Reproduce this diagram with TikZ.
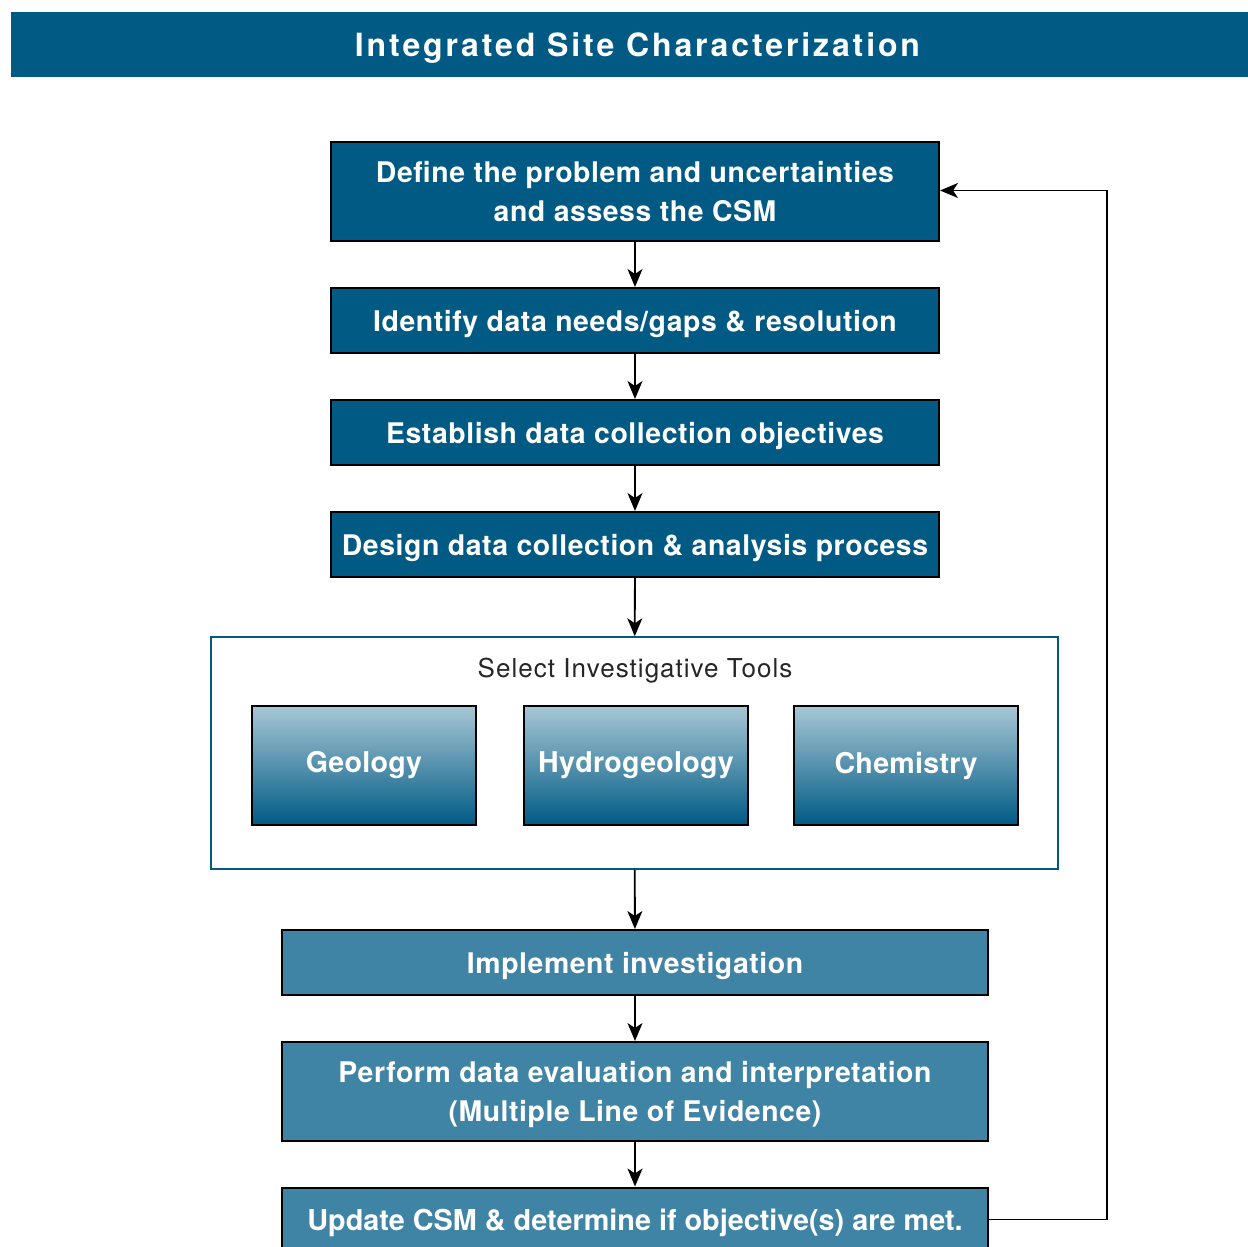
\documentclass[tikz,border=0pt]{standalone}
\usepackage{fontspec}
\setmainfont{TeX Gyre Heros}
\usetikzlibrary{arrows.meta,positioning}

\definecolor{darkblue}{RGB}{0,90,132}
\definecolor{midblue}{RGB}{63,132,165}
\definecolor{paleblue}{RGB}{168,199,213}

\begin{document}
\begin{tikzpicture}[x=0.5pt,y=0.5pt,yscale=-1,
	stepbox/.style={draw=black,line width=1pt,fill=darkblue,text=white,font=\bfseries\fontsize{14.2}{19.5}\selectfont\addfontfeature{LetterSpace=2},align=center,minimum width=304pt,minimum height=32.5pt,inner sep=0pt,text depth=0pt},
	lowbox/.style={stepbox,fill=midblue,minimum width=353pt},
	toolbox/.style={draw=black,line width=1pt,top color=paleblue,bottom color=darkblue,text=white,font=\bfseries\fontsize{14.3}{16}\selectfont\addfontfeature{LetterSpace=1},minimum width=112pt,minimum height=59.5pt,inner sep=0pt},
	flow/.style={-{Stealth[length=9pt,width=7.5pt,inset=2.5pt]},line width=0.9pt}]
	%uncomment if require: \path (0,1247); %set diagram left start at 0, and has height of 1247
	\useasboundingbox (0,0) rectangle (1248,1247);

	% Title bar
	\path [fill=darkblue] (11,12) rectangle (1248,77);
	\node (title) [text=white,font=\bfseries\fontsize{16}{19}\selectfont\addfontfeature{LetterSpace=9},text depth=0pt,inner sep=0pt] at (637.5,44.5) {Integrated Site Characterization};

	% Steps
	\node (define) [stepbox,minimum height=49.5pt] at (635,191.5) {Define the problem and uncertainties\\and assess the CSM};
	\node (identify) [stepbox] at (635,320.5) {Identify data needs/gaps \& resolution};
	\node (establish) [stepbox] at (635,432.5) {Establish data collection objectives};
	\node (design) [stepbox] at (635,544.5) {Design data collection \& analysis process};

	% Tools frame
	\node (select) [draw=darkblue,line width=0.75pt,fill=white,minimum width=423.5pt,minimum height=116pt,inner sep=0pt] at (634.5,753) {};
	\node (selecttext) [font=\fontsize{13}{15}\selectfont\addfontfeature{LetterSpace=4},text=black!85] at (635,671) {Select Investigative Tools};
	\node (geology) [toolbox] at (364,765.5) {Geology};
	\node (hydro) [toolbox] at (636,765.5) {Hydrogeology};
	\node (chem) [toolbox] at (906,765.5) {Chemistry};

	% Lower steps
	\node (implement) [lowbox] at (635,962.5) {Implement investigation};
	\node (perform) [lowbox,minimum height=49.5pt] at (635,1091.5) {Perform data evaluation and interpretation\\(Multiple Line of Evidence)};
	\node (update) [lowbox,font=\bfseries\fontsize{14.4}{19.5}\selectfont] at (635,1220) {Update CSM \& determine if objective(s) are met.};

	% Arrows
	\draw [flow] (define) -- (identify);
	\draw [flow] (identify) -- (establish);
	\draw [flow] (establish) -- (design);
	\draw [flow] (design) -- (select);
	\draw [flow] (select) -- (implement);
	\draw [flow] (implement) -- (perform);
	\draw [flow] (perform) -- (update);

	% Feedback loop
	\coordinate (loop) at (1107,1219.5);
	\draw [flow] (update.east |- loop) -- (loop) |- (define.east |- 0,190.5);
\end{tikzpicture}
\end{document}
